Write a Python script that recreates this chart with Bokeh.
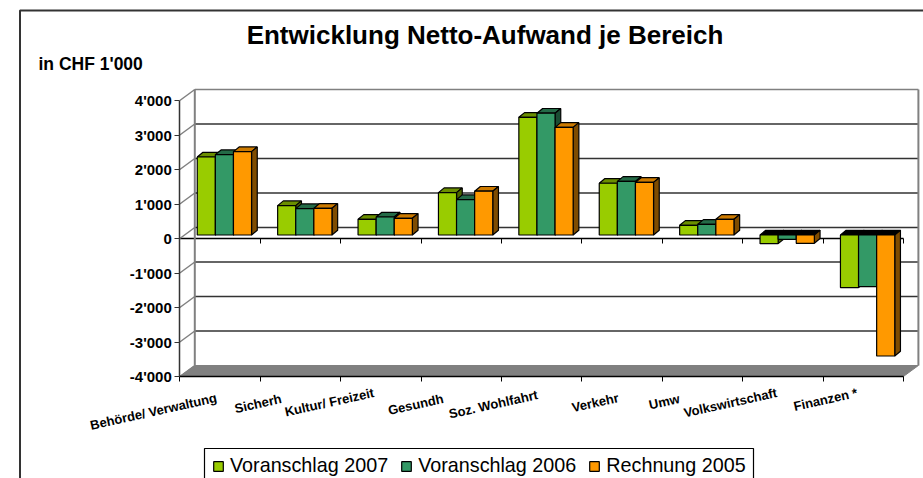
from bokeh.plotting import figure
from bokeh.models import (Range1d, LinearAxis, FixedTicker, Label, Legend, LegendItem)
from bokeh.embed import file_html
from bokeh.resources import INLINE

categories = ["Behörde/ Verwaltung", "Sicherh", "Kultur/ Freizeit", "Gesundh", "Soz. Wohlfahrt",
              "Verkehr", "Umw", "Volkswirtschaft", "Finanzen *"]
voranschlag_2007 = [2261, 852, 455, 1229, 3411, 1500, 281, -250, -1525]
voranschlag_2006 = [2330, 765, 522, 1026, 3530, 1555, 310, -125, -1495]
rechnung_2005 = [2417, 774, 484, 1270, 3120, 1525, 455, -240, -3507]
series_names = ["Voranschlag 2007", "Voranschlag 2006", "Rechnung 2005"]
y_ticks = [-4000, -3000, -2000, -1000, 0, 1000, 2000, 3000, 4000]
y_tick_labels = ["-4'000", "-3'000", "-2'000", "-1'000", "0", "1'000", "2'000", "3'000", "4'000"]

# layout (pixels, canvas)
W, H = 923, 478
AX_X, AX_Y = 179.3, 376
PX_X = 80.4
PX_Y = 34.5 / 1000
ux = lambda px: px / PX_X
uy = lambda px: px / PX_Y
sx = lambda px: ux(px - AX_X)            # canvas x -> data
sy = lambda px: -4000 + uy(AX_Y - px)    # canvas y -> data
WALL_DX, WALL_DY = ux(15), uy(11)
BAR_FX, BAR_FY = ux(4.4), uy(3.5)
BAR_DX, BAR_DY = ux(5.7), uy(4.7)
BAR_W = ux(18.1)

front = ["#99CC00", "#339966", "#FF9900"]
top_c = ["#6B8F00", "#246B47", "#CC7A00"]
side_c = ["#4D6600", "#1A4D33", "#7F4C00"]
DARK = "#333333"
GREY = "#808080"

p = figure(width=W, height=H, output_backend="svg", toolbar_location=None,
           x_range=Range1d(sx(0), sx(W)), y_range=Range1d(sy(H), sy(0)),
           x_axis_type=None, y_axis_type=None,
           min_border_left=0, min_border_right=0, min_border_top=0, min_border_bottom=0)
p.outline_line_color = None
p.grid.visible = False
n = len(categories)

# outer chart border
p.line([sx(19.5), sx(19.5), sx(W + 5)], [sy(H + 5), sy(10), sy(10)], line_color=DARK, line_width=2)

# title and unit
p.add_layout(Label(x=sx(484.5), y=sy(34), text="Entwicklung Netto-Aufwand je Bereich",
                   text_font="Liberation Sans", text_font_size="26px", text_font_style="bold",
                   text_color="black", text_align="center", text_baseline="middle"))
p.add_layout(Label(x=sx(38), y=sy(63), text="in CHF 1'000",
                   text_font="Liberation Sans", text_font_size="17.5px", text_font_style="bold",
                   text_color="black", text_baseline="middle"))

# floor, walls, gridlines
p.patch([0, n, n + WALL_DX, WALL_DX], [-4000, -4000, -4000 + WALL_DY, -4000 + WALL_DY],
        fill_color=GREY, line_color=GREY)
for v in y_ticks:
    is_edge = v in (-4000, 4000)
    p.line([0, WALL_DX], [v, v + WALL_DY], line_color=GREY, line_width=1.5)
    if v != -4000:
        p.line([WALL_DX, n + WALL_DX], [v + WALL_DY] * 2,
               line_color=GREY if is_edge else DARK, line_width=1.5)
for wx in (WALL_DX, n + WALL_DX):
    p.line([wx, wx], [-4000 + WALL_DY, 4000 + WALL_DY], line_color=GREY, line_width=2)

# bars
series = [voranschlag_2007, voranschlag_2006, rechnung_2005]
legend_r = [None, None, None]
group_w = BAR_W * 3
for i in range(n):
    for s, vals in enumerate(series):
        v = vals[i]
        l = i + 0.5 - group_w / 2 + BAR_FX + s * BAR_W
        r = l + BAR_W
        base = BAR_FY
        tip = base + v
        hi = max(base, tip)
        p.patch([l, r, r + BAR_DX, l + BAR_DX], [hi, hi, hi + BAR_DY, hi + BAR_DY],
                fill_color="black" if v < 0 else top_c[s], line_color="black", line_width=1.2)
        p.patch([r, r + BAR_DX, r + BAR_DX, r],
                [base, base + BAR_DY, tip + BAR_DY, tip],
                fill_color=side_c[s], line_color="black", line_width=1.2)
        legend_r[s] = p.quad(left=[l], right=[r], top=[hi], bottom=[min(base, tip)],
                             fill_color=front[s], line_color="black", line_width=1.2)

# real axes
yax = LinearAxis(ticker=FixedTicker(ticks=y_ticks), bounds=(-4000, 4000), fixed_location=0,
                 major_label_overrides=dict(zip(y_ticks, y_tick_labels)),
                 major_tick_in=0, major_tick_out=5, minor_tick_line_color=None,
                 axis_line_color=DARK, axis_line_width=1.5, major_tick_line_color=DARK,
                 major_label_text_font="Liberation Sans", major_label_text_font_style="bold",
                 major_label_text_font_size="15px", major_label_text_color="black",
                 major_label_standoff=3)
p.add_layout(yax, "left")
for loc in (-4000, 0):
    xax = LinearAxis(ticker=FixedTicker(ticks=list(range(n + 1))), bounds=(0, n), fixed_location=loc,
                     major_label_overrides={t: "" for t in range(n + 1)},
                     major_tick_in=0, major_tick_out=5, minor_tick_line_color=None,
                     axis_line_color="black", axis_line_width=1.5, major_tick_line_color="black",
                     level="underlay" if loc == 0 else "guide")
    p.add_layout(xax, "below")

# category labels
label_dx = [-3.5, -19, -7, -18, -4, -3.5, -23, -6, -6]
label_dy = [-21, -22, -16, -22, -18, -21, -22, -16, -16]
for i, c in enumerate(categories):
    p.add_layout(Label(x=i + 0.5, y=-4000, text=c, x_offset=label_dx[i], y_offset=label_dy[i],
                       angle=12.5, angle_units="deg", text_align="right", text_baseline="middle",
                       text_font="Liberation Sans", text_font_size="13px", text_font_style="bold",
                       text_color="black"))

# legend frame (open at the page bottom, as in the reference)
p.line([sx(204), sx(204), sx(753), sx(753)], [sy(H + 5), sy(448), sy(448), sy(H + 5)],
       line_color="black", line_width=1.2)
legend = Legend(items=[LegendItem(label=series_names[k], renderers=[legend_r[k]]) for k in range(3)],
                orientation="horizontal", location=(212, 1), spacing=12, padding=0, margin=0,
                glyph_width=12, glyph_height=12, label_standoff=6,
                label_text_font="Liberation Sans", label_text_font_size="19.75px", label_text_color="black",
                border_line_color=None, background_fill_alpha=0)
p.add_layout(legend)

open("out.html", "w").write(file_html(p, INLINE))
